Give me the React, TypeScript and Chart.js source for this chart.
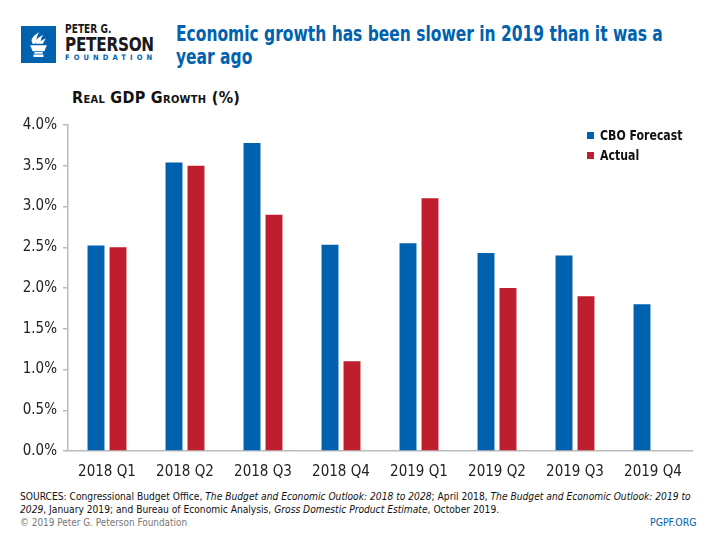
import React, { useEffect, useRef } from "react";
import { Chart, registerables } from "chart.js";

Chart.register(...registerables);

const categories = ["2018 Q1", "2018 Q2", "2018 Q3", "2018 Q4", "2019 Q1", "2019 Q2", "2019 Q3", "2019 Q4"];
const cboForecast = [2.52, 3.54, 3.78, 2.53, 2.55, 2.43, 2.4, 1.8];
const actual: (number | null)[] = [2.5, 3.5, 2.9, 1.1, 3.1, 2.0, 1.9, null];
const seriesNames = ["CBO Forecast", "Actual"];
const yTicks = [0, 0.5, 1, 1.5, 2, 2.5, 3, 3.5, 4];

const BLUE = "#0061AF";
const RED = "#BE1E2D";
const NARROW = "'DejaVu Sans Condensed', 'Liberation Sans', Arial, sans-serif";

const squeeze = (sx: number): React.CSSProperties => ({
  display: "inline-block",
  transform: `scaleX(${sx})`,
  transformOrigin: "left top",
  whiteSpace: "nowrap",
});

function Logo() {
  return (
    <>
      <div style={{ position: "absolute", left: 21, top: 26, width: 35, height: 37, background: BLUE }}>
        <svg width="35" height="37" viewBox="0 0 42 42">
          <path d="M14 20 C10 14 16 10 22 6 C18 11 20 14 17 20 Z" fill="#fff" />
          <path d="M18 20 C16 15 22 12 27 9 C23 14 25 16 22 20 Z" fill="#fff" />
          <path d="M22 20 C22 17 26 15 30 14 C27 17 28 18 26 20 Z" fill="#fff" />
          <path d="M11 22 H31 L28 29 H14 Z" fill="#fff" />
          <rect x="16" y="30" width="10" height="2" fill="#fff" />
          <rect x="15" y="33" width="12" height="3" fill="#fff" />
        </svg>
      </div>
      <div style={{ position: "absolute", left: 65, top: 24, lineHeight: 1, fontSize: 11.5, fontWeight: 700, color: "#1a1a1a", fontFamily: NARROW }}>
        <span style={squeeze(0.88)}>PETER G.</span>
      </div>
      <div style={{ position: "absolute", left: 65, top: 35, lineHeight: 1, fontSize: 19.5, fontWeight: 700, letterSpacing: -0.3, color: "#1a1a1a", fontFamily: NARROW }}>
        <span style={squeeze(0.87)}>PETERSON</span>
      </div>
      <div style={{ position: "absolute", left: 65, top: 54, lineHeight: 1, fontSize: 7.5, fontWeight: 700, letterSpacing: 4.1, color: BLUE, fontFamily: NARROW, whiteSpace: "nowrap" }}>
        FOUNDATION
      </div>
    </>
  );
}

export default function App() {
  const canvasRef = useRef<HTMLCanvasElement | null>(null);

  useEffect(() => {
    const ctx = canvasRef.current!.getContext("2d")!;
    const chart = new Chart(ctx, {
      type: "bar",
      data: {
        labels: categories,
        datasets: [
          { label: seriesNames[0], data: cboForecast, backgroundColor: BLUE, categoryPercentage: 0.564, barPercentage: 0.77 },
          { label: seriesNames[1], data: actual, backgroundColor: RED, categoryPercentage: 0.564, barPercentage: 0.77 },
        ],
      },
      options: {
        animation: false,
        responsive: false,
        maintainAspectRatio: false,
        layout: { padding: { top: 12, right: 28, left: 0, bottom: 0 } },
        plugins: { legend: { display: false }, tooltip: { enabled: false }, title: { display: false } },
        scales: {
          x: {
            grid: { display: false },
            border: { display: true, color: "#bbbbbb", width: 1.5 },
            ticks: { color: "#222", font: { family: NARROW, size: 15 }, padding: 4 },
            afterFit: (s: any) => { s.height = 29; },
          },
          y: {
            min: 0,
            max: 4,
            afterBuildTicks: (s: any) => { s.ticks = yTicks.map((v) => ({ value: v })); },
            grid: { drawOnChartArea: false, drawTicks: true, tickLength: 5, color: "#bbbbbb", lineWidth: 1.5 },
            border: { display: true, color: "#bbbbbb", width: 1.5 },
            ticks: {
              color: "#222",
              font: { family: NARROW, size: 15 },
              padding: 6,
              callback: (v: any) => Number(v).toFixed(1) + "%",
            },
            afterFit: (s: any) => { s.width = 68; },
          },
        },
      },
    });
    return () => chart.destroy();
  }, []);

  return (
    <div style={{ position: "absolute", left: 0, top: 0, width: 720, height: 540, background: "#fff", overflow: "hidden", fontFamily: NARROW }}>
      <Logo />
      <div style={{ position: "absolute", left: 176, top: 23, color: BLUE, fontSize: 21, fontWeight: 700, lineHeight: "23px" }}>
        <div style={squeeze(0.82)}>Economic growth has been slower in 2019 than it was a</div>
        <br />
        <div style={{ ...squeeze(0.82), marginTop: -23 }}>year ago</div>
      </div>
      <div style={{ position: "absolute", left: 72, top: 88, fontSize: 16, fontWeight: 700, color: "#111", fontVariant: "small-caps", letterSpacing: 0.3 }}>
        Real GDP Growth (%)
      </div>
      <canvas ref={canvasRef} width={720} height={370} style={{ position: "absolute", left: 0, top: 110, width: 720, height: 370 }} />
      <div style={{ position: "absolute", left: 587, top: 125, fontSize: 14, fontWeight: 700, color: "#111", lineHeight: "20px" }}>
        {seriesNames.map((n, i) => (
          <div key={n} style={{ display: "flex", alignItems: "center", whiteSpace: "nowrap" }}>
            <span style={{ display: "inline-block", width: 7, height: 7, background: i === 0 ? BLUE : RED, marginRight: 6 }} />
            <span style={squeeze(0.87)}>{n}</span>
          </div>
        ))}
      </div>
      <div style={{ position: "absolute", left: 20, top: 490, fontSize: 11, color: "#111", lineHeight: "13px", width: 742, transform: "scaleX(0.925)", transformOrigin: "left top" }}>
        SOURCES: Congressional Budget Office, <i>The Budget and Economic Outlook: 2018 to 2028</i>; April 2018, <i>The Budget and Economic Outlook: 2019 to 2029</i>, January 2019; and Bureau of Economic Analysis, <i>Gross Domestic Product Estimate</i>, October 2019.
      </div>
      <div style={{ position: "absolute", left: 20, top: 516, fontSize: 11, color: "#777" }}>
        <span style={squeeze(0.9)}>© 2019 Peter G. Peterson Foundation</span>
      </div>
      <div style={{ position: "absolute", left: 650, top: 516, fontSize: 11, color: BLUE }}>
        <span style={squeeze(0.95)}>PGPF.ORG</span>
      </div>
    </div>
  );
}
